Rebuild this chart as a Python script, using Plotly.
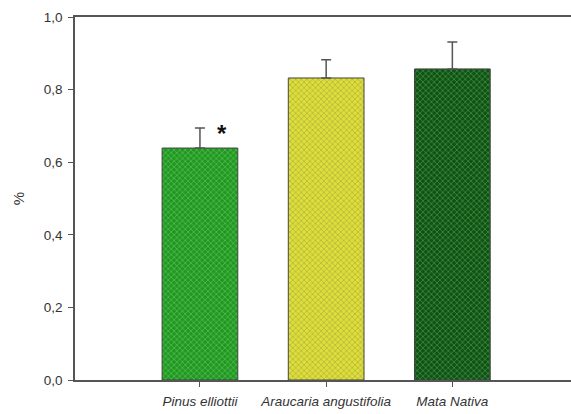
import plotly.graph_objects as go

categories = ["Pinus elliottii", "Araucaria angustifolia", "Mata Nativa"]
values = [0.639, 0.832, 0.857]
errors = [0.055, 0.050, 0.074]
colors = ["#1e9a1e", "#dede3a", "#0b560f"]
pattern_colors = ["#168016", "#b0b030", "#083f0a"]
y_ticks = [0.0, 0.2, 0.4, 0.6, 0.8, 1.0]

x_idx = list(range(len(categories)))

fig = go.Figure()
fig.add_trace(go.Bar(
    x=x_idx, y=values, width=0.6,
    marker=dict(color=colors, line=dict(color="#444444", width=1),
                pattern=dict(shape="x", fgcolor=pattern_colors, size=4, solidity=0.2)),
    error_y=dict(type="data", symmetric=False, array=errors, arrayminus=[0]*len(errors),
                 color="#555555", thickness=1.5, width=5),
    showlegend=False,
    hoverinfo="skip",
))

fig.add_annotation(x=x_idx[0], y=values[0] + errors[0], xshift=22, yshift=-5,
                   text="<b>*</b>", showarrow=False, font=dict(size=24, color="#111111"))

fig.update_layout(
    width=571, height=414,
    margin=dict(l=75, r=0, t=17, b=34),
    plot_bgcolor="white", paper_bgcolor="white",
    separators=",.",
    font=dict(family="Liberation Sans, Arial, sans-serif", size=13.5, color="#333333"),
    bargap=0.4,
)
fig.update_xaxes(
    range=[-0.99, 2.94], tickvals=x_idx,
    ticktext=[f"<i>{c}</i>" for c in categories],
    showline=True, linecolor="#555555", linewidth=1.5, mirror=True,
    ticks="outside", ticklen=5, tickcolor="#555555", showgrid=False, zeroline=False,
    ticklabelstandoff=3,
)
fig.update_yaxes(
    range=[0, 1.0], tickvals=y_ticks, tickformat=".1f",
    showline=True, linecolor="#555555", linewidth=1.5,
    ticks="outside", ticklen=5, tickcolor="#555555", showgrid=False, zeroline=False,
    ticklabelstandoff=3,
    title=dict(text="%", standoff=16, font=dict(size=15)),
)

fig.write_html("out.html", config={"displayModeBar": False},
               post_script="document.body.style.margin='0';document.body.style.overflow='hidden';")
